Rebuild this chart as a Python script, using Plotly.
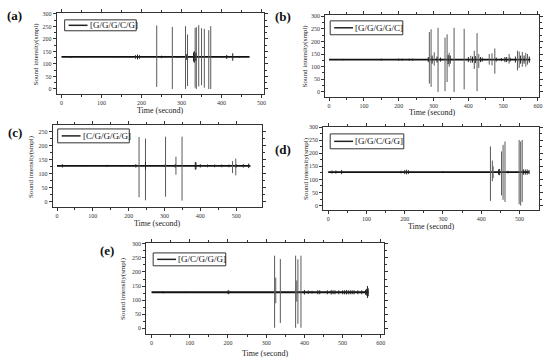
import plotly.graph_objects as go

W, H = 550, 362
BASELINE = 128

# ---------------- data ----------------
# (a) [G/G/G/C/G]
a_label = "[G/G/G/C/G]"
a_end = 470
a_t = [238, 277, 310, 315, 334, 337, 343, 350, 357, 368, 373]
a_lo = [8, 0, 0, 12, 5, 0, 10, 15, 5, 0, 0]
a_hi = [254, 248, 251, 218, 244, 247, 255, 243, 240, 235, 251]
a_nt = [25, 60, 140, 185, 190, 195, 250, 290, 313, 330, 332, 336, 400, 413, 428, 445]
a_nlo = [124, 125, 125, 121, 118, 121, 123, 124, 116, 110, 105, 112, 124, 120, 113, 124]
a_nhi = [132, 131, 131, 135, 138, 135, 133, 132, 140, 146, 151, 144, 132, 136, 143, 132]

# (b) [G/G/G/G/C]
b_label = "[G/G/G/G/C]"
b_end = 578
b_t = [288, 293, 302, 313, 333, 339, 345, 359, 388, 407, 417, 425, 430, 460, 468, 476, 517, 541, 546, 555, 565, 570]
b_lo = [33, 20, 104, 0, 3, 39, 100, 0, 10, 115, 91, 3, 95, 108, 105, 72, 112, 85, 95, 100, 100, 108]
b_hi = [237, 248, 157, 254, 215, 228, 155, 254, 250, 143, 163, 233, 150, 150, 153, 172, 150, 163, 160, 158, 155, 150]
b_nt = [40, 150, 200, 210, 230, 240, 285, 296, 310, 320, 342, 348, 400, 412, 420, 435, 440, 480, 495, 505, 510, 520, 535, 550, 560, 575]
b_nlo = [125, 124, 124, 124, 124, 124, 118, 112, 116, 120, 110, 112, 118, 116, 114, 118, 120, 120, 122, 118, 118, 120, 116, 112, 112, 116]
b_nhi = [131, 132, 132, 132, 132, 132, 138, 144, 140, 136, 146, 144, 138, 140, 142, 138, 136, 136, 134, 138, 138, 136, 140, 144, 144, 140]

# (c) [C/G/G/G/G]
c_label = "[C/G/G/G/G]"
c_end = 540
c_t = [229, 247, 303, 332, 349, 490, 499]
c_lo = [15, 4, 17, 96, 3, 102, 94]
c_hi = [232, 226, 233, 161, 233, 145, 154]
c_nt = [15, 80, 140, 180, 220, 247, 300, 330, 386, 388, 400, 420, 440, 460, 480, 500, 520, 535]
c_nlo = [122, 125, 124, 125, 122, 114, 124, 122, 114, 116, 122, 123, 123, 123, 123, 122, 122, 120]
c_nhi = [134, 131, 132, 131, 134, 142, 132, 134, 142, 140, 134, 133, 133, 133, 133, 134, 134, 136]

# (d) [G/G/C/G/G]
d_label = "[G/G/C/G/G]"
d_end = 525
d_t = [424, 429, 431, 453, 457, 462, 499, 503, 507]
d_lo = [18, 93, 105, 39, 22, 14, 5, 0, 14]
d_hi = [226, 172, 150, 207, 232, 245, 251, 245, 251]
d_nt = [10, 20, 35, 190, 200, 205, 210, 300, 445, 448, 470, 510, 515, 520, 525]
d_nlo = [122, 122, 120, 123, 120, 119, 121, 124, 118, 116, 123, 118, 118, 118, 120]
d_nhi = [134, 134, 136, 133, 136, 137, 135, 132, 138, 140, 133, 138, 138, 138, 136]

# (e) [G/C/G/G/G]
e_label = "[G/C/G/G/G]"
e_end = 568
e_t = [322, 325, 337, 377, 380, 383, 391]
e_lo = [2, 89, 19, 2, 95, 16, 2]
e_hi = [258, 180, 246, 258, 170, 245, 258]
e_nt = [30, 90, 200, 202, 400, 410, 420, 435, 440, 460, 470, 475, 480, 490, 500, 505, 510, 515, 520, 525, 530, 540, 550, 560, 563, 565, 567]
e_nlo = [124, 125, 122, 121, 120, 122, 123, 121, 121, 121, 120, 121, 121, 121, 121, 121, 120, 121, 121, 121, 121, 121, 121, 119, 116, 108, 114]
e_nhi = [132, 131, 134, 135, 136, 134, 133, 135, 135, 135, 136, 135, 135, 135, 135, 135, 136, 135, 135, 135, 135, 135, 135, 137, 140, 150, 142]

# ---------------- layout geometry (pixels) ----------------
panels = [
    dict(tag="(a)", label=a_label, end=a_end, t=a_t, lo=a_lo, hi=a_hi, nt=a_nt, nlo=a_nlo, nhi=a_nhi,
         box=(57, 10, 265, 92), xr=[-12, 505], yr=[-21, 304], xmax=500, ymax=300,
         leg=(65, 17, 137, 28), tagpos=(15, 13), ytit=36, xtit=108),
    dict(tag="(b)", label=b_label, end=b_end, t=b_t, lo=b_lo, hi=b_hi, nt=b_nt, nlo=b_nlo, nhi=b_nhi,
         box=(327, 12, 542, 95), xr=[-11, 603], yr=[-21, 305], xmax=600, ymax=300,
         leg=(332, 18, 405, 32), tagpos=(285, 14), ytit=307, xtit=110),
    dict(tag="(c)", label=c_label, end=c_end, t=c_t, lo=c_lo, hi=c_hi, nt=c_nt, nlo=c_nlo, nhi=c_nhi,
         box=(53, 123, 263, 206), xr=[-12, 571], yr=[-21, 275], xmax=500, ymax=250,
         leg=(58, 127, 130, 141), tagpos=(15, 131), ytit=31, xtit=222),
    dict(tag="(d)", label=d_label, end=d_end, t=d_t, lo=d_lo, hi=d_hi, nt=d_nt, nlo=d_nlo, nhi=d_nhi,
         box=(325, 125, 542, 209), xr=[-13, 551], yr=[-18, 300.5], xmax=500, ymax=300,
         leg=(332, 132, 406, 147), tagpos=(285, 148), ytit=307, xtit=225),
    dict(tag="(e)", label=e_label, end=e_end, t=e_t, lo=e_lo, hi=e_hi, nt=e_nt, nlo=e_nlo, nhi=e_nhi,
         box=(147, 242, 386, 334), xr=[-14, 608], yr=[-21, 303], xmax=600, ymax=300,
         leg=(154, 252, 227, 265), tagpos=(108, 250), ytit=123, xtit=353),
]

SERIF = "Liberation Serif"
fig = go.Figure()
shapes = []
annotations = []


def segs(ts, los, his):
    xs, ys = [], []
    for t, lo, hi in zip(ts, los, his):
        xs += [t, t, None]
        ys += [lo, hi, None]
    return xs, ys


for i, p in enumerate(panels):
    n = "" if i == 0 else str(i + 1)
    xa, ya = "x" + n, "y" + n
    L, T, R, B = p["box"]
    # baseline
    fig.add_trace(go.Scatter(x=[0, p["end"]], y=[BASELINE, BASELINE], mode="lines",
                             line=dict(color="#111111", width=1.8), showlegend=False,
                             xaxis=xa, yaxis=ya, hoverinfo="skip"))
    # tall spikes
    sx, sy = segs(p["t"], p["lo"], p["hi"])
    fig.add_trace(go.Scatter(x=sx, y=sy, mode="lines", line=dict(color="#5a5a5a", width=1),
                             showlegend=False, xaxis=xa, yaxis=ya, hoverinfo="skip"))
    # small bursts near baseline
    nx, ny = segs(p["nt"], p["nlo"], p["nhi"])
    fig.add_trace(go.Scatter(x=nx, y=ny, mode="lines", line=dict(color="#222222", width=1),
                             showlegend=False, xaxis=xa, yaxis=ya, hoverinfo="skip"))

    axis_common = dict(showline=True, linecolor="#333333", linewidth=1, mirror="ticks",
                       ticks="outside", ticklen=3, tickcolor="#333333", showgrid=False,
                       zeroline=False, tickfont=dict(family=SERIF, size=6, color="#333333"))
    fig.layout["xaxis" + n] = dict(domain=[L / W, R / W], range=p["xr"], anchor=ya,
                                   tickvals=list(range(0, p["xmax"] + 1, 100)),
                                   minor=dict(ticks="outside", ticklen=2, tickcolor="#333333",
                                              tickvals=list(range(50, p["xmax"], 100))),
                                   **axis_common)
    fig.layout["yaxis" + n] = dict(domain=[1 - B / H, 1 - T / H], range=p["yr"], anchor=xa,
                                   tickvals=list(range(0, p["ymax"] + 1, 50)),
                                   minor=dict(ticks="outside", ticklen=2, tickcolor="#333333",
                                              tickvals=list(range(25, p["ymax"], 50))),
                                   **axis_common)

    # legend box drawn in the corner of each panel
    lx0, ly0, lx1, ly1 = p["leg"]
    shapes.append(dict(type="rect", xref="paper", yref="paper", x0=lx0 / W, x1=lx1 / W,
                       y0=1 - ly1 / H, y1=1 - ly0 / H, line=dict(color="#333333", width=1),
                       fillcolor="white", layer="above"))
    ym = 1 - (ly0 + ly1) / 2 / H
    shapes.append(dict(type="line", xref="paper", yref="paper", x0=(lx0 + 4) / W, x1=(lx0 + 23) / W,
                       y0=ym, y1=ym, line=dict(color="#222222", width=1.5), layer="above"))
    annotations.append(dict(text=p["label"], xref="paper", yref="paper", x=(lx0 + 23) / W, y=ym,
                            xanchor="left", yanchor="middle", showarrow=False,
                            font=dict(family=SERIF, size=9, color="#111111")))
    # panel tag
    annotations.append(dict(text="<b>" + p["tag"] + "</b>", xref="paper", yref="paper",
                            x=p["tagpos"][0] / W, y=1 - p["tagpos"][1] / H,
                            xanchor="center", yanchor="middle", showarrow=False,
                            font=dict(family=SERIF, size=13, color="#111111")))
    # axis titles
    annotations.append(dict(text="Sound intensity(smpl)", xref="paper", yref="paper",
                            x=p["ytit"] / W, y=1 - (T + B) / 2 / H, textangle=-90,
                            xanchor="center", yanchor="middle", showarrow=False,
                            font=dict(family=SERIF, size=7, color="#222222")))
    annotations.append(dict(text="Time (second)", xref="paper", yref="paper",
                            x=(L + R) / 2 / W, y=1 - p["xtit"] / H,
                            xanchor="center", yanchor="middle", showarrow=False,
                            font=dict(family=SERIF, size=8, color="#222222")))

fig.update_layout(width=W, height=H, margin=dict(l=0, r=0, t=0, b=0),
                  paper_bgcolor="white", plot_bgcolor="white", showlegend=False,
                  shapes=shapes, annotations=annotations)

fig.write_html("out.html", config={"displayModeBar": False},
               post_script="document.body.style.margin='0';")
